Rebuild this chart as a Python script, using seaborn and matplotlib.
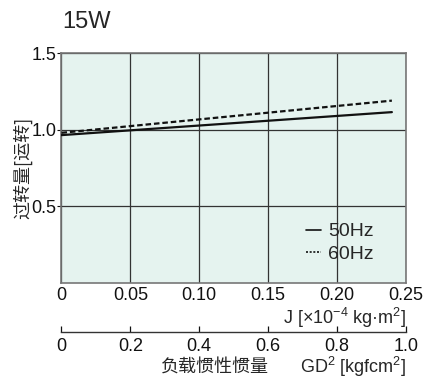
import matplotlib
matplotlib.use("Agg")
import matplotlib.pyplot as plt
import seaborn as sns
import pandas as pd

# Data
J_vals = [0.0, 0.24]
hz50 = [0.965, 1.115]
hz60 = [0.98, 1.19]
x_ticks = [0, 0.05, 0.10, 0.15, 0.20, 0.25]
x_tick_labels = ["0", "0.05", "0.10", "0.15", "0.20", "0.25"]
y_ticks = [0.5, 1.0, 1.5]
y_tick_labels = ["0.5", "1.0", "1.5"]
gd_ticks = [0, 0.2, 0.4, 0.6, 0.8, 1.0]
gd_tick_labels = ["0", "0.2", "0.4", "0.6", "0.8", "1.0"]
series_names = ["50Hz", "60Hz"]
title = "15W"
ylabel = "过转量[运转]"
xlabel = r"J [×10$^{-4}$ kg·m$^{2}$]"
gd_label_cn = "负载惯性惯量"
gd_label = r"GD$^{2}$ [kgfcm$^{2}$]"

sns.set_theme(style="white")
plt.rcParams["font.family"] = ["Liberation Sans", "Noto Sans CJK SC", "DejaVu Sans"]
plt.rcParams["mathtext.fontset"] = "custom"
plt.rcParams["mathtext.rm"] = "Liberation Sans"
plt.rcParams["mathtext.it"] = "Liberation Sans"

FS = 13

df = pd.DataFrame({
    "J": J_vals * 2,
    "v": hz50 + hz60,
    "s": [series_names[0]] * 2 + [series_names[1]] * 2,
})

fig = plt.figure(figsize=(4.27, 3.82), dpi=100)
ax = fig.add_axes([0.144, 0.259, 0.806, 0.602])
ax.set_facecolor("#e5f3ef")

sns.lineplot(data=df, x="J", y="v", hue="s", style="s",
             palette=["#111111", "#111111"],
             dashes={series_names[0]: "", series_names[1]: (2.5, 1.3)},
             linewidth=1.6, ax=ax, zorder=3)

ax.set_xlim(0, 0.25)
ax.set_ylim(0, 1.5)
ax.set_xticks(x_ticks)
ax.set_xticklabels(x_tick_labels, fontsize=FS)
ax.set_yticks(y_ticks)
ax.set_yticklabels(y_tick_labels, fontsize=FS)
ax.tick_params(axis="x", length=0, pad=3, colors="#111111")
ax.tick_params(axis="y", length=3, width=0.8, direction="out", pad=0.5, colors="#111111", left=True)
ax.grid(True, color="#333333", linewidth=0.9)
for sp in ax.spines.values():
    sp.set_color("#777777")
    sp.set_linewidth(1.2)
ax.set_xlabel("")
ax.set_ylabel("")

fig.text(0.952, 0.168, xlabel, ha="right", va="center", fontsize=FS)
fig.text(0.054, 0.56, ylabel, rotation=90, ha="center", va="center", fontsize=13,
         family=["Noto Sans CJK SC", "DejaVu Sans"])
fig.text(0.145, 0.942, title, ha="left", va="center", fontsize=17)

leg = ax.legend(frameon=False, fontsize=14, handlelength=0.8, handletextpad=0.35,
                loc="center left", bbox_to_anchor=(0.71, 0.175), labelspacing=0.25,
                borderaxespad=0, borderpad=0)
for h in leg.get_lines():
    h.set_linewidth(1.2)
leg.get_lines()[1].set_dashes((1.2, 1.0))

# Secondary axis for GD^2
ax2 = fig.add_axes([0.144, 0.130, 0.806, 0.0001])
ax2.set_xlim(0, 1.0)
ax2.set_xticks(gd_ticks)
ax2.set_xticklabels(gd_tick_labels, fontsize=FS)
ax2.set_yticks([])
for name in ["top", "left", "right"]:
    ax2.spines[name].set_visible(False)
ax2.spines["bottom"].set_color("#333333")
ax2.spines["bottom"].set_linewidth(1.0)
ax2.set_facecolor("none")
ax2.tick_params(axis="x", direction="in", length=4, width=0.9, pad=4, colors="#111111", bottom=True)
fig.text(0.504, 0.040, gd_label_cn, ha="center", va="center", fontsize=13,
         family=["Noto Sans CJK SC", "DejaVu Sans"])
fig.text(0.952, 0.040, gd_label, ha="right", va="center", fontsize=FS)

fig.savefig("out.png", dpi=100)
